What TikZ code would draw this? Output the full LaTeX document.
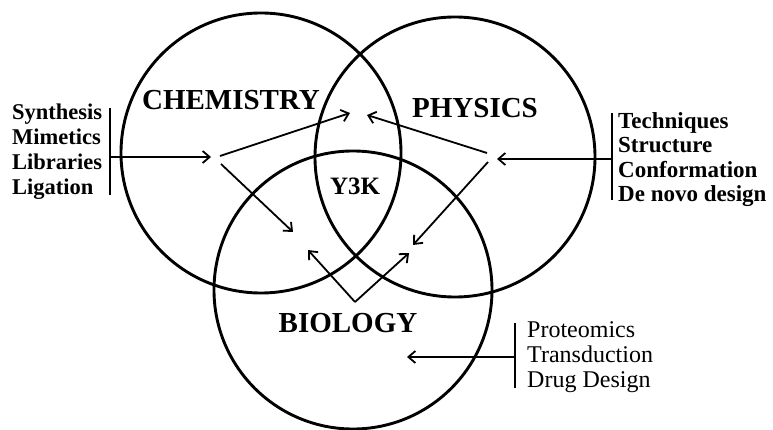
\documentclass[tikz,border=0pt]{standalone}
\usepackage{fontspec}
\setmainfont{Liberation Serif}
\usetikzlibrary{arrows.meta, positioning}

\begin{document}
\begin{tikzpicture}[x=1pt, y=-1pt, >={Straight Barb[length=7pt, width=12pt]},
    ring/.style={draw, circle, line width=2.9pt, minimum size=280pt, inner sep=0pt},
    bigword/.style={font=\fontsize{29}{29}\selectfont\bfseries, inner sep=0pt},
    listword/.style={font=\fontsize{22.5}{25}\selectfont\bfseries, align=left, inner sep=0pt},
    bracketline/.style={line width=1.8pt},
    link/.style={->, line width=1.8pt}]
    \useasboundingbox (0,0) rectangle (773,430);

    % 1. Ba đường tròn
    \node[ring] (chemring) at (261,153) {};
    \node[ring] (physring) at (455,157) {};
    \node[ring, minimum size=278pt] (bioring) at (353,290) {};

    % 2. Tên các miền và phần giao
    \node[bigword] (chem) at (231,100) {CHEMISTRY};
    \node[bigword] (phys) at (475,108) {PHYSICS};
    \node[bigword] (bio) at (348,323) {BIOLOGY};
    \node[bigword, font=\fontsize{25}{25}\selectfont\bfseries] (core) at (355,186) {Y3K};

    % 3. Danh sách bên trái + ngoặc
    \node[listword, anchor=north west] (chemlist) at (12,104)
        {Synthesis\\Mimetics\\Libraries\\Ligation};
    \coordinate (chembartop) at (110,108);
    \coordinate (chembarbot) at (110,195);
    \coordinate (chemfoot) at (110,157);
    \coordinate (chemhead) at (211,157);
    \draw[bracketline] (chembartop) -- (chembarbot);
    \draw[link] (chemfoot) -- (chemhead);

    % 4. Danh sách bên phải + ngoặc
    \node[listword, font=\fontsize{23}{24.5}\selectfont\bfseries, anchor=north west] (physlist) at (618,112)
        {Techniques\\Structure\\Conformation\\De novo design};
    \coordinate (physbartop) at (612,113);
    \coordinate (physbarbot) at (612,200);
    \coordinate (physfoot) at (612,159);
    \coordinate (physhead) at (497,159);
    \draw[bracketline] (physbartop) -- (physbarbot);
    \draw[link] (physfoot) -- (physhead);

    % 5. Danh sách phía dưới + ngoặc
    \node[listword, font=\fontsize{24}{25}\selectfont, anchor=north west] (biolist) at (527,321)
        {Proteomics\\Transduction\\Drug Design};
    \coordinate (biobartop) at (515,323);
    \coordinate (biobarbot) at (515,388);
    \coordinate (biofoot) at (515,357);
    \coordinate (biohead) at (407,357);
    \draw[bracketline] (biobartop) -- (biobarbot);
    \draw[link] (biofoot) -- (biohead);

    % 6. Các mũi tên chỉ vào phần giao
    \coordinate (chemup) at (220,156);
    \coordinate (chemdown) at (221,164);
    \coordinate (physup) at (487,153);
    \coordinate (physdown) at (488,162);
    \coordinate (apex) at (355,302);
    \coordinate (cptip) at (350,113);
    \coordinate (pctip) at (367,115);
    \coordinate (cbtip) at (293,232);
    \coordinate (pbtip) at (413,245);
    \coordinate (bctip) at (308,250);
    \coordinate (bptip) at (409,253);

    \draw[link] (chemup) -- (cptip);
    \draw[link] (chemdown) -- (cbtip);
    \draw[link] (physup) -- (pctip);
    \draw[link] (physdown) -- (pbtip);
    \draw[link] (apex) -- (bctip);
    \draw[link] (apex) -- (bptip);
\end{tikzpicture}
\end{document}
